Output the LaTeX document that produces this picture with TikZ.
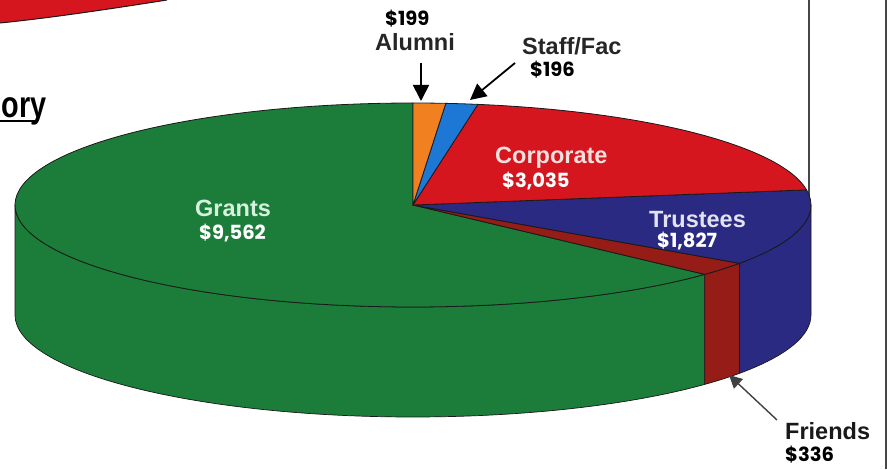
\documentclass[tikz,border=0pt]{standalone}
\usepackage{fontspec}
\setmainfont{Liberation Sans}
\newfontfamily\numfont{Poppins}
\usetikzlibrary{arrows.meta}
\definecolor{grantsgreen}{RGB}{28,125,58}
\definecolor{corpred}{RGB}{214,22,30}
\definecolor{trustnavy}{RGB}{42,42,130}
\definecolor{friendred}{RGB}{150,28,24}
\definecolor{alumorange}{RGB}{240,128,32}
\definecolor{staffblue}{RGB}{28,120,212}
\definecolor{outline}{RGB}{25,25,25}
\definecolor{framegray}{RGB}{70,70,70}
\definecolor{grantslbl}{RGB}{214,242,220}
\definecolor{corplbl}{RGB}{246,224,222}
\definecolor{trustlbl}{RGB}{226,226,242}
\newcommand\sideface[3]{%
  \filldraw[fill=#1,draw=outline,line width=0.7pt,line join=round]
    ([shift={(413,264)}]#2:398 and 102)
    arc[start angle=#2,end angle=#3,x radius=398,y radius=102]
    -- ++(0,-110)
    arc[start angle=#3,end angle=#2,x radius=398,y radius=102]
    -- cycle;}
\newcommand\topsector[3]{%
  \filldraw[fill=#1,draw=outline,line width=0.8pt,line join=round]
    (C) -- ([shift={(413,264)}]#2:398 and 102)
    arc[start angle=#2,end angle=#3,x radius=398,y radius=102]
    -- cycle;}
\tikzset{
  lbl/.style={anchor=base west,inner sep=0pt,font=\fontsize{23.5}{24}\selectfont\bfseries},
  numlbl/.style={anchor=base west,inner sep=0pt,font=\fontsize{19.5}{20}\selectfont\numfont\bfseries},
  arr/.style={line width=1.8pt,-{Triangle[width=16pt,length=16pt]}},
  framelines/.style={draw=framegray,line width=1.2pt}
}
\begin{document}
\begin{tikzpicture}[x=1pt,y=1pt]
\useasboundingbox (0,0) rectangle (887,469);
\fill[white] (0,0) rectangle (887,469);
% frame lines
\draw[framelines] (809,469) -- (809,270);
\draw[framelines] (886,0) -- (886,469);
% red shape at top left
\fill[corpred] (0,469) -- (0,446) .. controls (50,451) and (110,460) .. (167,469) -- cycle;
\draw[outline,line width=1pt] (0,446) .. controls (50,451) and (110,460) .. (167,469);
% title fragment
\node[anchor=base east,inner sep=0pt] (ory) at (47,351)
  {\fontsize{37}{37}\selectfont\bfseries\scalebox{0.78}[1]{ory}};
\draw[black,line width=2.2pt] (0,348) -- (35,348);
% pie
\coordinate (C) at (413,264);
\sideface{grantsgreen}{180}{317.14}
\sideface{friendred}{317.14}{325.12}
\sideface{trustnavy}{325.12}{360}
\topsector{grantsgreen}{-42.86}{-270}
\topsector{friendred}{-34.88}{-42.86}
\topsector{trustnavy}{8.52}{-34.88}
\topsector{corpred}{80.62}{8.52}
\topsector{staffblue}{85.27}{80.62}
\topsector{alumorange}{90}{85.27}
% labels
\node[numlbl,text=black] (alnum) at (385,443) {\$199};
\node[lbl,text=black!85] (allbl) at (375,418) {Alumni};
\node[lbl,text=black!85] (stlbl) at (522,414) {Staff/Fac};
\node[numlbl,text=black] (stnum) at (530,392) {\$196};
\node[lbl,text=corplbl] (colbl) at (495,305) {Corporate};
\node[numlbl,text=white] (conum) at (502,281) {\$3,035};
\node[lbl,text=trustlbl] (trlbl) at (649,241) {Trustees};
\node[numlbl,text=white] (trnum) at (657,221) {\$1,827};
\node[lbl,text=grantslbl] (grlbl) at (195,252) {Grants};
\node[numlbl,text=white] (grnum) at (199,229) {\$9,562};
\node[lbl,text=black!90] (frlbl) at (785,29) {Friends};
\node[numlbl,text=black] (frnum) at (785,8) {\$336};
% arrows
\coordinate (alA) at (421,406);
\coordinate (alT) at (421,368);
\coordinate (stA) at (515,406);
\coordinate (stT) at (470,369);
\coordinate (frA) at (777,49);
\coordinate (frT) at (729,94);
\draw[arr] (alA) -- (alT);
\draw[arr] (stA) -- (stT);
\draw[arr,line width=1.4pt,draw=black!75,-{Triangle[width=13pt,length=13pt]}] (frA) -- (frT);
\end{tikzpicture}
\end{document}
